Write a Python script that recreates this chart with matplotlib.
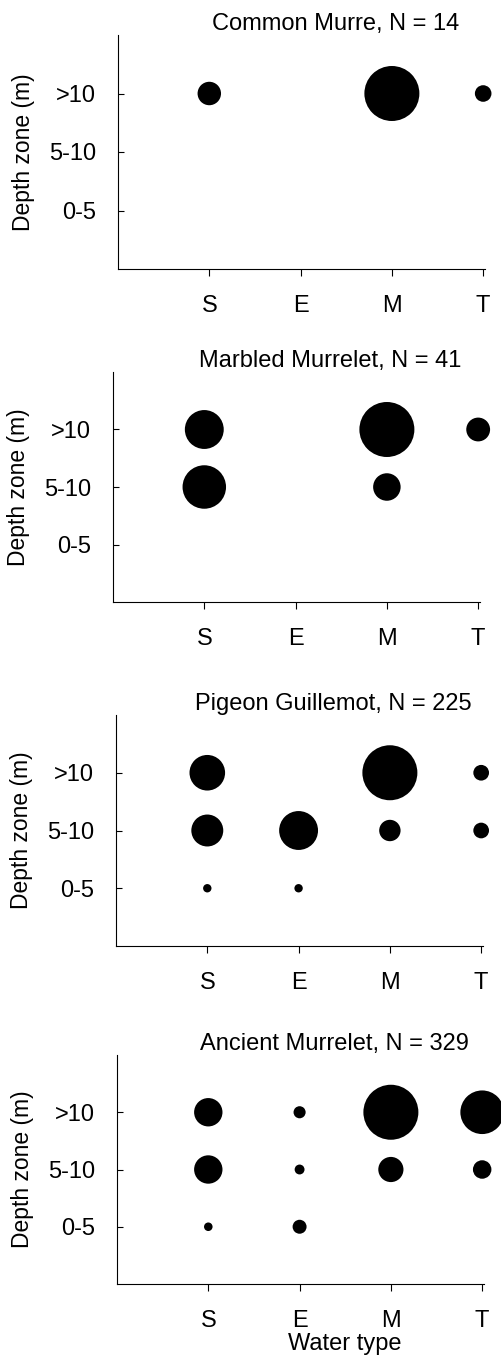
import matplotlib
matplotlib.use("Agg")
import matplotlib.pyplot as plt
import numpy as np

plt.rcParams['font.family'] = ['Liberation Sans', 'DejaVu Sans']

# data: counts per depth zone (rows: 0-5, 5-10, >10) and water type (S, E, M, T)
water_types = ['S', 'E', 'M', 'T']
depth_zones = ['0-5', '5-10', '>10']
species = ['Common Murre', 'Marbled Murrelet', 'Pigeon Guillemot', 'Ancient Murrelet']
n_total = [14, 41, 225, 329]

murre = [[0, 0, 0, 0],
         [0, 0, 0, 0],
         [2, 0, 11, 1]]
marbled = [[0, 0, 0, 0],
           [10, 0, 4, 0],
           [8, 0, 16, 3]]
guillemot = [[2, 2, 0, 0],
             [29, 43, 13, 7],
             [36, 0, 86, 7]]
ancient = [[3, 8, 0, 0],
           [33, 4, 26, 14],
           [33, 6, 124, 78]]
counts = [murre, marbled, guillemot, ancient]

# layout in pixels (figure 502 x 1355 at 100 dpi)
W, H = 502, 1355
dpi = 100
tops = [35, 372, 715, 1055]
bottoms = [269, 602, 946, 1284]
lefts = [118, 113, 116, 117]
ax_w = 367
max_d = 55  # px diameter of biggest circle in each panel

fig = plt.figure(figsize=(W / dpi, H / dpi), dpi=dpi)

for i in range(4):
    l, t, b = lefts[i], tops[i], bottoms[i]
    ax = fig.add_axes([l / W, 1 - b / H, ax_w / W, (b - t) / H])
    c = np.array(counts[i], dtype=float)
    cmax = c.max()
    xs, ys, ss = [], [], []
    for r in range(len(depth_zones)):
        for k in range(len(water_types)):
            if c[r, k] > 0:
                d = max_d * np.sqrt(c[r, k] / cmax) * 72 / dpi
                xs.append(k + 1)
                ys.append(r + 1)
                ss.append(d ** 2)
    ax.scatter(xs, ys, s=ss, c='black', linewidths=0, clip_on=False, zorder=3)

    ax.set_xlim(0, 4.02)
    ax.set_ylim(0, 4)
    ax.set_xticks(range(1, 5))
    ax.set_xticklabels(water_types)
    ax.set_yticks(range(1, 4))
    ax.set_yticklabels(depth_zones)
    ax.spines['top'].set_visible(False)
    ax.spines['right'].set_visible(False)
    ax.spines['left'].set_linewidth(0.8)
    ax.spines['bottom'].set_linewidth(0.8)
    ax.tick_params(axis='x', direction='out', length=5, width=0.8, pad=14, labelsize=17)
    ax.tick_params(axis='y', direction='in', length=4, width=0.8, pad=16, labelsize=17)

    ax.set_ylabel('Depth zone (m)', fontsize=16.5)
    ax.yaxis.set_label_coords(-0.225, 0.5)
    ax.text(0.593, 1 + 5 / (b - t), '%s, N = %d' % (species[i], n_total[i]),
            transform=ax.transAxes, ha='center', va='baseline', fontsize=17)

    if i == 3:
        # x label centred under the middle of the categories
        xc = ax.transData.transform((2.5, 0))[0] / W
        fig.text(xc, 1 - 1350 / H, 'Water type', fontsize=17, ha='center', va='baseline')

fig.savefig('out.png', dpi=dpi)
